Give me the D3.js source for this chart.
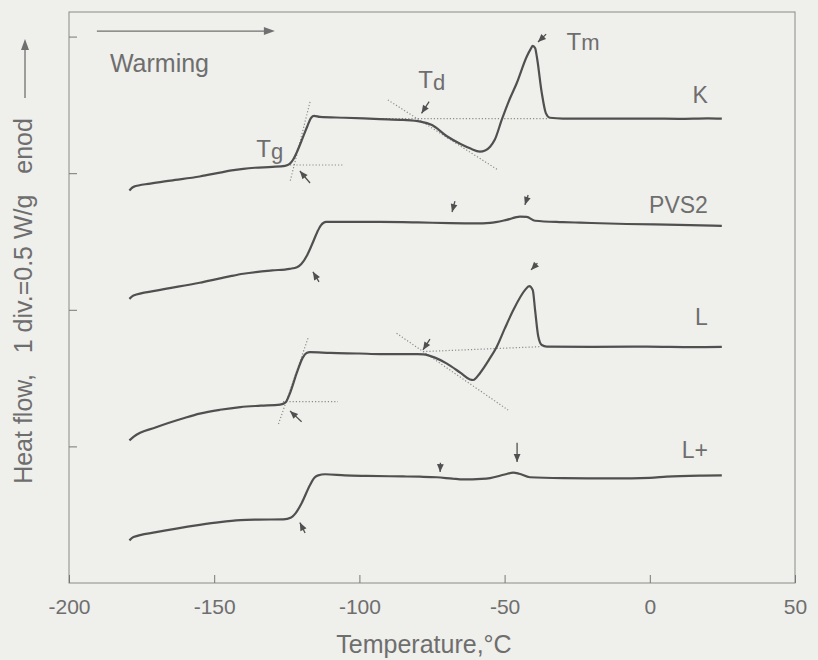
<!DOCTYPE html>
<html>
<head>
<meta charset="utf-8">
<script src="https://cdnjs.cloudflare.com/ajax/libs/d3/7.8.5/d3.min.js"></script>
<style>
    body { margin: 0; background: #efefec; }
    svg { display: block; font-family: 'Liberation Sans', Arial, sans-serif; }
</style>
</head>
<body>
<div id="chart"></div>
<script>
// Data: temperature (°C), heat flow (W/g, offset per curve)
var curveK = [[-179.2,1.437],[-177.8,1.450],[-172,1.462],[-165,1.473],[-155,1.488],[-148,1.502],[-144,1.510],[-140,1.516],[-136,1.520],[-130,1.523],[-125.6,1.527],[-124,1.534],[-122.8,1.550],[-121.5,1.578],[-119.8,1.622],[-118,1.670],[-116.6,1.703],[-115.6,1.710],[-113.6,1.706],[-105,1.703],[-93,1.698],[-85,1.695],[-79,1.689],[-75,1.676],[-70,1.636],[-65,1.606],[-61.9,1.591],[-58.5,1.579],[-56.7,1.583],[-55,1.597],[-53.4,1.622],[-51,1.695],[-48.5,1.765],[-45.8,1.830],[-42.4,1.926],[-41,1.955],[-40.3,1.966],[-39.5,1.958],[-38.9,1.926],[-37.2,1.794],[-35.8,1.720],[-34.4,1.703],[-30,1.700],[-15,1.700],[0,1.700],[10,1.699],[20,1.701],[24.8,1.700]];
var curvePVS2 = [[-179.2,1.040],[-177.8,1.052],[-170,1.070],[-155,1.099],[-148,1.115],[-144,1.124],[-140,1.132],[-135,1.139],[-130,1.144],[-124,1.150],[-121.5,1.156],[-120,1.168],[-118,1.200],[-116.4,1.237],[-114.5,1.285],[-113.2,1.310],[-111.5,1.322],[-100,1.322],[-92.9,1.322],[-80,1.320],[-68.8,1.317],[-60,1.316],[-55,1.318],[-49.3,1.329],[-44.7,1.341],[-42.4,1.340],[-39.5,1.326],[-30,1.321],[-24,1.319],[-8,1.314],[10,1.311],[24.8,1.307]];
var curveL = [[-179.2,0.522],[-177.8,0.535],[-170,0.570],[-160,0.605],[-155,0.620],[-148,0.634],[-141,0.644],[-134,0.649],[-127.3,0.653],[-125.5,0.660],[-123.9,0.695],[-121.6,0.768],[-119.5,0.825],[-118.2,0.842],[-117,0.845],[-110,0.842],[-100,0.840],[-92.9,0.838],[-80,0.838],[-78,0.837],[-74,0.825],[-70,0.804],[-65,0.768],[-61.9,0.745],[-60.8,0.743],[-58.5,0.768],[-55.5,0.815],[-52.7,0.865],[-50,0.930],[-47,0.999],[-43,1.072],[-41.5,1.087],[-40.3,1.072],[-39.5,0.999],[-38.4,0.902],[-37.2,0.871],[-35.5,0.865],[-20,0.864],[-1.1,0.865],[15,0.863],[24.8,0.864]];
var curveLplus = [[-179.2,0.156],[-177.8,0.168],[-170,0.186],[-155,0.213],[-148,0.223],[-141,0.230],[-135,0.232],[-126.2,0.233],[-123.5,0.240],[-122,0.255],[-119.9,0.292],[-117,0.359],[-115.5,0.385],[-114.2,0.394],[-111.8,0.398],[-105,0.394],[-97.5,0.392],[-85,0.390],[-79.1,0.389],[-73.4,0.387],[-68,0.382],[-64.2,0.379],[-58,0.381],[-55,0.384],[-50,0.397],[-47,0.404],[-45,0.400],[-41.3,0.387],[-30,0.384],[-12.6,0.383],[0,0.385],[5.8,0.389],[18.4,0.393],[24.8,0.394]];

var curves = [curveK, curvePVS2, curveL, curveLplus];
var curveNames = ['K', 'PVS2', 'L', 'L+'];
var nameAnchors = [[20, 1.757], [20, 1.354], [20, 0.944], [20, 0.458]];

var xTicks = [-200, -150, -100, -50, 0, 50];
var yTicks = [0.5, 1, 1.5, 2];

// Dotted tangent constructions
var tangents = [
    [[-123.9, 1.530], [-105.6, 1.530]],
    [[-117.0, 1.761], [-123.9, 1.468]],
    [[-90.2, 1.768], [-52.3, 1.512]],
    [[-92, 1.700], [-35, 1.700]],
    [[-126.3, 0.664], [-107.4, 0.664]],
    [[-117.7, 0.896], [-128.0, 0.578]],
    [[-87.2, 0.914], [-48.8, 0.633]],
    [[-78.1, 0.847], [-37.8, 0.865]]
];

// Small arrows: [tip, tail]
var arrows = [
    [[-120.5, 1.508], [-117.0, 1.464]],
    [[-78.6, 1.719], [-76.0, 1.762]],
    [[-38.5, 1.980], [-35.7, 2.009]],
    [[-116.0, 1.139], [-113.9, 1.102]],
    [[-68.1, 1.358], [-67.1, 1.398]],
    [[-43.0, 1.384], [-41.9, 1.420]],
    [[-123.9, 0.630], [-119.9, 0.590]],
    [[-78.1, 0.853], [-75.7, 0.893]],
    [[-40.9, 1.146], [-38.7, 1.171]],
    [[-120.5, 0.221], [-118.7, 0.183]],
    [[-72.2, 0.406], [-72.1, 0.440]],
    [[-45.7, 0.443], [-45.7, 0.513]]
];

// Transition temperature labels: [main, sub, T, Y]
var tempLabels = [['T', 'g', -135.5, 1.559], ['T', 'd', -79.7, 1.812], ['T', 'm', -28.7, 1.951]];

var W = 818, H = 660;
var mLeft = 69, mTop = 12, mRight = 795, mBottom = 583;
var ink = '#505050', textInk = '#6e6e6e';

var svg = d3.select('#chart').append('svg')
    .attr('width', W)
    .attr('height', H)
;

var x = d3.scaleLinear().domain([-200, 50]).range([mLeft, mRight]);
var y = d3.scaleLinear().domain([0, 2.09]).range([mBottom, mTop]);

// Frame
svg.append('rect')
    .attr('x', mLeft).attr('y', mTop)
    .attr('width', mRight - mLeft).attr('height', mBottom - mTop)
    .attr('fill', 'none')
    .attr('stroke', '#8a8a8a')
    .attr('stroke-width', 1)
;

// Axes
var xAxis = svg.append('g')
    .attr('transform', 'translate(0,' + mBottom + ')')
    .call(d3.axisBottom(x).tickValues(xTicks).tickSize(-8).tickSizeOuter(0).tickPadding(16)
        .tickFormat(function (d) { return String(d); }))
;
var yAxis = svg.append('g')
    .attr('transform', 'translate(' + mLeft + ',0)')
    .call(d3.axisLeft(y).tickValues(yTicks).tickSize(-8).tickSizeOuter(0).tickFormat(''))
;
[xAxis, yAxis].forEach(function (g) {
    g.select('.domain').remove();
    g.selectAll('line').attr('stroke', '#777');
});
xAxis.selectAll('text')
    .attr('fill', textInk)
    .attr('font-size', '21px')
    .attr('font-family', "'Liberation Sans', Arial, sans-serif")
;

// Tangent lines
svg.selectAll('line.tangent')
    .data(tangents)
    .enter()
    .append('line')
    .attr('class', 'tangent')
    .attr('x1', function (d) { return x(d[0][0]); })
    .attr('y1', function (d) { return y(d[0][1]); })
    .attr('x2', function (d) { return x(d[1][0]); })
    .attr('y2', function (d) { return y(d[1][1]); })
    .attr('stroke', '#8c8c8c')
    .attr('stroke-width', 1.2)
    .attr('stroke-dasharray', '1.2,2')
;

// Curves
var line = d3.line()
    .x(function (d) { return x(d[0]); })
    .y(function (d) { return y(d[1]); })
    .curve(d3.curveMonotoneX)
;
svg.selectAll('path.curve')
    .data(curves)
    .enter()
    .append('path')
    .attr('class', 'curve')
    .attr('d', line)
    .attr('fill', 'none')
    .attr('stroke', ink)
    .attr('stroke-width', 2.2)
    .attr('stroke-linejoin', 'round')
;

// Arrows
function arrowHead(tx, ty, sx, sy, len, half) {
    var a = Math.atan2(ty - sy, tx - sx);
    var bx = tx - len * Math.cos(a), by = ty - len * Math.sin(a);
    var px = -Math.sin(a) * half, py = Math.cos(a) * half;
    return 'M' + tx + ',' + ty + 'L' + (bx + px) + ',' + (by + py) + 'L' + (bx - px) + ',' + (by - py) + 'Z';
}
var arrowG = svg.selectAll('g.arrow')
    .data(arrows)
    .enter()
    .append('g')
    .attr('class', 'arrow')
;
arrowG.append('line')
    .attr('x1', function (d) { return x(d[1][0]); })
    .attr('y1', function (d) { return y(d[1][1]); })
    .attr('x2', function (d) { return x(d[0][0]); })
    .attr('y2', function (d) { return y(d[0][1]); })
    .attr('stroke', ink)
    .attr('stroke-width', 1.3)
;
arrowG.append('path')
    .attr('d', function (d) {
        return arrowHead(x(d[0][0]), y(d[0][1]), x(d[1][0]), y(d[1][1]), 8, 3.4);
    })
    .attr('fill', ink)
;

// Curve names
svg.selectAll('text.name')
    .data(curveNames)
    .enter()
    .append('text')
    .attr('class', 'name')
    .text(function (d) { return d; })
    .attr('x', function (d, i) { return x(nameAnchors[i][0]); })
    .attr('y', function (d, i) { return y(nameAnchors[i][1]); })
    .attr('text-anchor', 'end')
    .attr('font-size', '23px')
    .attr('fill', textInk)
;

// Tg, Td, Tm
var tl = svg.selectAll('text.tlabel')
    .data(tempLabels)
    .enter()
    .append('text')
    .attr('class', 'tlabel')
    .attr('x', function (d) { return x(d[2]); })
    .attr('y', function (d) { return y(d[3]); })
    .attr('font-size', '24px')
    .attr('fill', textInk)
;
tl.append('tspan').text(function (d) { return d[0]; });
tl.append('tspan')
    .text(function (d) { return d[1]; })
    .attr('font-size', '22px')
    .attr('dy', function (d) { return d[1] === 'm' ? 0 : 2; })
;

// Warming arrow
var warmY = 2.02;
svg.append('line')
    .attr('x1', x(-190.4)).attr('y1', y(warmY))
    .attr('x2', x(-132)).attr('y2', y(warmY))
    .attr('stroke', '#707070')
    .attr('stroke-width', 1.3)
;
svg.append('path')
    .attr('d', arrowHead(x(-129.1), y(warmY), x(-190.4), y(warmY), 11, 4))
    .attr('fill', '#707070')
;
svg.append('text')
    .text('Warming')
    .attr('x', x(-185.9))
    .attr('y', y(1.87))
    .attr('font-size', '25px')
    .attr('fill', textInk)
;

// Axis titles
svg.append('text')
    .text('Temperature,°C')
    .attr('x', 424)
    .attr('y', 653)
    .attr('text-anchor', 'middle')
    .attr('font-size', '25px')
    .attr('fill', textInk)
;
svg.append('text')
    .text('Heat flow,   1 div.=0.5 W/g   enod')
    .attr('transform', 'translate(32,301) rotate(-90)')
    .attr('text-anchor', 'middle')
    .style('white-space', 'pre')
    .attr('font-size', '25px')
    .attr('fill', textInk)
;
svg.append('line')
    .attr('x1', 25).attr('y1', 98)
    .attr('x2', 25).attr('y2', 48)
    .attr('stroke', '#707070')
    .attr('stroke-width', 1.3)
;
svg.append('path')
    .attr('d', arrowHead(25, 39, 25, 98, 11, 4))
    .attr('fill', '#707070')
;
</script>
</body>
</html>
